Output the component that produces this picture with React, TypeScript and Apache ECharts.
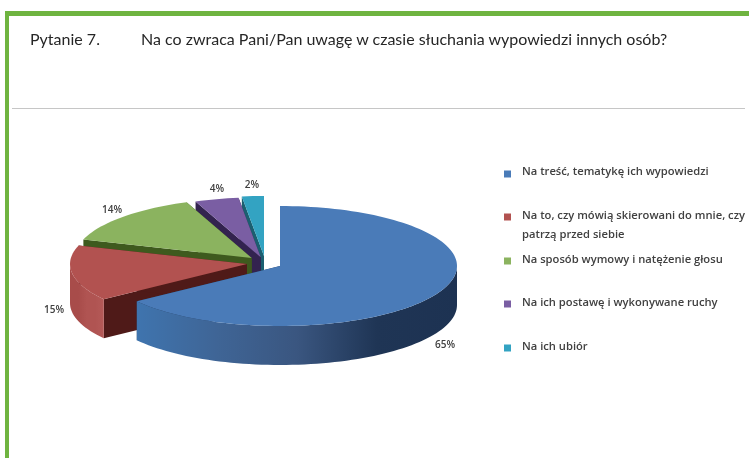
import React, { useEffect, useRef } from "react";
import * as echarts from "echarts";

// Data
const categories = [
  "Na treść, tematykę ich wypowiedzi",
  "Na to, czy mówią skierowani do mnie, czy\npatrzą przed siebie",
  "Na sposób wymowy i natężenie głosu",
  "Na ich postawę i wykonywane ruchy",
  "Na ich ubiór",
];
const shares = [65, 15, 14, 4, 2];
const questionNumber = "Pytanie 7.";
const questionText = "Na co zwraca Pani/Pan uwagę w czasie słuchania wypowiedzi innych osób?";

// Styles and layout
const topColors = ["#4a7bb8", "#b25250", "#8bb35f", "#7a5ea3", "#33a3c2"];
const cutColors = ["#1f3555", "#4f1a18", "#3e5a1e", "#33234f", "#1b5f70"];
const wallStops: string[][] = [
  ["#3f74ae", "#3f6596", "#3a5680", "#1f3555", "#1d3252"],
  ["#a84c4a", "#a84c4a", "#b05452", "#b05452", "#b55a58"],
  ["#5f7f3c", "#5f7f3c", "#5f7f3c", "#5f7f3c", "#5f7f3c"],
  ["#4a3a70", "#4a3a70", "#4a3a70", "#4a3a70", "#4a3a70"],
  ["#22788f", "#22788f", "#22788f", "#22788f", "#22788f"],
];
const apexes = [[280, 266], [247, 264], [251.7, 258], [260.7, 257.3], [264, 256]];
const labelPos = [[445, 344], [54, 309], [112, 209], [217, 188], [252, 184]];
const legendRowY = [174, 217, 261, 304, 348];
const legendTextY = [170, 223.5, 258, 301.5, 345];
const RX = 177;
const RY = 60;
const DEPTH = 39;
const LEGEND_FONT = '600 11.2px "Open Sans"';

const total = shares.reduce((a, b) => a + b, 0);

function pt(c: number[], deg: number, dy = 0): number[] {
  const r = (deg * Math.PI) / 180;
  return [c[0] + RX * Math.sin(r), c[1] - RY * Math.cos(r) + dy];
}
function arc(c: number[], a0: number, a1: number, dy = 0): number[][] {
  const n = Math.max(2, Math.ceil(Math.abs(a1 - a0) / 2));
  const out: number[][] = [];
  for (let i = 0; i <= n; i++) out.push(pt(c, a0 + ((a1 - a0) * i) / n, dy));
  return out;
}

function renderSlice(params: any, api: any) {
  const i = params.dataIndex;
  const value = api.value(0);
  let before = 0;
  for (let k = 0; k < i; k++) before += shares[k];
  const a0 = (before / total) * 360;
  const a1 = ((before + value) / total) * 360;
  const c = apexes[i];
  const z = (shares.length - i) * 10;
  const children: any[] = [];
  const cut = (deg: number) => {
    const p = pt(c, deg);
    children.push({
      type: "polygon",
      z2: z,
      shape: { points: [c, p, [p[0], p[1] + DEPTH], [c[0], c[1] + DEPTH]] },
      style: { fill: cutColors[i] },
    });
  };
  cut(a0);
  cut(a1);
  const w0 = Math.max(a0, 90);
  const w1 = Math.min(a1, 270);
  if (w1 > w0) {
    const top = arc(c, w0, w1);
    const bottom = arc(c, w1, w0, DEPTH);
    const xs = top.map((p) => p[0]);
    const minX = Math.min(...xs);
    const maxX = Math.max(...xs);
    const stops = wallStops[i];
    children.push({
      type: "polygon",
      z2: z + 1,
      shape: { points: top.concat(bottom) },
      style: {
        fill: new echarts.graphic.LinearGradient(
          minX, 0, maxX, 0,
          stops.map((color, k) => ({ offset: k / (stops.length - 1), color })),
          true
        ),
      },
    });
  }
  children.push({
    type: "polygon",
    z2: z + 2,
    shape: { points: [c].concat(arc(c, a0, a1)) },
    style: { fill: topColors[i] },
  });
  children.push({
    type: "text",
    z2: 100,
    x: labelPos[i][0],
    y: labelPos[i][1],
    style: {
      text: `${value}%`,
      fill: "#404040",
      font: '600 10px "Open Sans"',
      align: "center",
      verticalAlign: "middle",
    },
  });
  return { type: "group", children };
}

export default function App() {
  const ref = useRef<HTMLDivElement>(null);
  useEffect(() => {
    const chart = echarts.init(ref.current!, null, { renderer: "svg" });
    const legendGraphics: any[] = [];
    categories.forEach((name, i) => {
      legendGraphics.push({
        type: "rect",
        shape: { x: 504, y: legendRowY[i] - 3.5, width: 7, height: 7 },
        style: { fill: topColors[i] },
      });
      legendGraphics.push({
        type: "text",
        x: 522,
        y: legendTextY[i],
        style: {
          text: name,
          font: LEGEND_FONT,
          fill: "#404040",
          lineHeight: 19,
          verticalAlign: "middle",
          align: "left",
        },
      });
    });
    chart.setOption({
      animation: false,
      backgroundColor: "#ffffff",
      graphic: [
        { type: "rect", shape: { x: 5, y: 11, width: 744, height: 5 }, style: { fill: "#6fb440" } },
        { type: "rect", shape: { x: 5, y: 11, width: 4, height: 447 }, style: { fill: "#6fb440" } },
        {
          type: "line",
          shape: { x1: 12, y1: 108.5, x2: 745, y2: 108.5 },
          style: { stroke: "#c6c6c6", lineWidth: 1 },
        },
        {
          type: "text",
          x: 30,
          y: 38,
          style: { text: questionNumber, font: "16px Lato", fill: "#262626", verticalAlign: "middle" },
        },
        {
          type: "text",
          x: 141,
          y: 38,
          style: { text: questionText, font: "16px Lato", fill: "#262626", verticalAlign: "middle" },
        },
        ...legendGraphics,
      ],
      series: [
        {
          type: "custom",
          coordinateSystem: "none",
          renderItem: renderSlice,
          data: shares.map((v) => [v]),
          silent: true,
        },
      ],
    });
    return () => chart.dispose();
  }, []);
  return (
    <div
      ref={ref}
      style={{ position: "absolute", left: 0, top: 0, width: 749, height: 458, filter: "blur(0.4px)" }}
    />
  );
}
